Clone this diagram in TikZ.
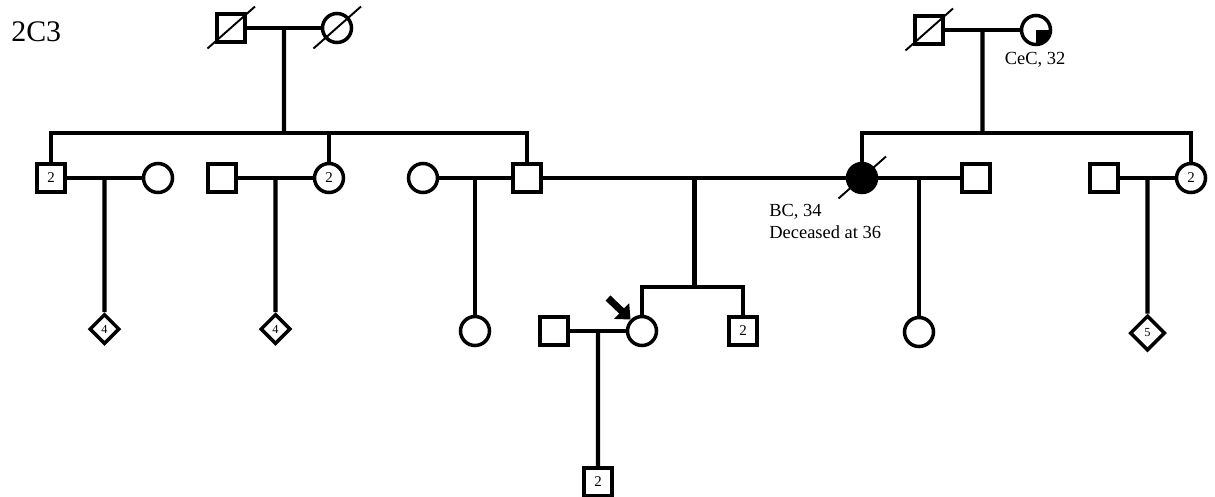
\documentclass[tikz,border=0pt]{standalone}
\usepackage{fontspec}
\setmainfont{Liberation Serif}
\usetikzlibrary{arrows.meta,calc,shapes.geometric}

\begin{document}
\begin{tikzpicture}[
    male/.style={draw,line width=2pt,minimum size=0.56cm,inner sep=0pt,font=\fontsize{8.5}{9}\selectfont},
    female/.style={male,circle,minimum size=0.58cm},
    unknown/.style={male,diamond,minimum size=0.6cm,font=\fontsize{7}{7}\selectfont},
    rel/.style={line width=2.4pt},
    dead/.style={line width=1.1pt},
    probarrow/.style={line width=4pt,-{Triangle[length=7pt,width=12pt]}},
    lbl/.style={font=\fontsize{10.5}{12.5}\selectfont,inner sep=0pt,align=left}
  ]
    \useasboundingbox (0,0) rectangle (24.3,-9.92);
    \node[font=\fontsize{17}{20}\selectfont,anchor=west,inner sep=0pt] (title) at (0.22,-0.64) {2C3};

    % paternal grandparents
    \node[male] (gf1) at (4.62,-0.56) {};
    \node[female] (gm1) at (6.74,-0.56) {};
    \draw[dead] (gf1.center) +(-0.47,-0.41) -- +(0.48,0.43);
    \draw[dead] (gm1.center) +(-0.47,-0.41) -- +(0.48,0.43);
    \draw[rel] (gf1) -- (gm1);
    \coordinate (m1) at ($(gf1)!0.5!(gm1)$);
    \coordinate (s1) at (5.68,-2.66);
    \draw[rel] (m1) -- (s1);

    % maternal grandparents
    \node[male] (gf2) at (18.58,-0.60) {};
    \node[female] (gm2) at (20.72,-0.60) {};
    \fill (gm2.center) -- ++(0.29,0) arc[start angle=0,end angle=-90,radius=0.29cm] -- cycle;
    \draw[dead] (gf2.center) +(-0.47,-0.41) -- +(0.48,0.43);
    \node[lbl] (cec) at (20.70,-1.20) {CeC, 32};
    \draw[rel] (gf2) -- (gm2);
    \coordinate (m2) at ($(gf2)!0.5!(gm2)$);
    \coordinate (s2) at (19.65,-2.66);
    \draw[rel] (m2) -- (s2);

    % second generation, left
    \node[male] (uA) at (1.02,-3.56) {2};
    \node[female] (wA) at (3.16,-3.56) {};
    \node[male] (hB) at (4.44,-3.56) {};
    \node[female] (aB) at (6.58,-3.56) {2};
    \node[female] (wC) at (8.46,-3.56) {};
    \node[male] (fa) at (10.54,-3.56) {};
    \draw[rel] (uA) |- (s1);
    \draw[rel] (aB) |- (s1);
    \draw[rel] (fa) |- (s1);
    \draw[rel] (uA) -- (wA);
    \draw[rel] (hB) -- (aB);
    \draw[rel] (wC) -- (fa);

    % second generation, right
    \node[female,fill=black] (mo) at (17.24,-3.56) {};
    \draw[dead] (mo.center) +(-0.47,-0.41) -- +(0.48,0.43);
    \node[lbl,anchor=north west] (bc) at (15.38,-4.08) {BC, 34\\Deceased at 36};
    \node[male] (hG) at (19.52,-3.56) {};
    \node[male] (hI) at (22.08,-3.56) {};
    \node[female] (aJ) at (23.82,-3.56) {2};
    \draw[rel] (mo) |- (s2);
    \draw[rel] (aJ) |- (s2);
    \draw[rel] (fa) -- (mo);
    \draw[rel] (mo) -- (hG);
    \draw[rel] (hI) -- (aJ);

    % third generation
    \coordinate (mA) at ($(uA)!0.5!(wA)$);
    \coordinate (mB) at ($(hB)!0.5!(aB)$);
    \coordinate (mC) at ($(wC)!0.5!(fa)$);
    \coordinate (mP) at ($(fa)!0.5!(mo)$);
    \coordinate (mG) at ($(mo)!0.5!(hG)$);
    \coordinate (mI) at ($(hI)!0.5!(aJ)$);
    \node[unknown] (cA) at (2.09,-6.58) {4};
    \node[unknown] (cB) at (5.51,-6.58) {4};
    \node[female] (cC) at (9.50,-6.62) {};
    \node[female] (pro) at (12.84,-6.62) {};
    \node[male] (sib) at (14.86,-6.62) {2};
    \node[male] (hE) at (11.08,-6.62) {};
    \node[female] (cG) at (18.38,-6.64) {};
    \node[unknown,minimum size=0.7cm] (cI) at (22.95,-6.66) {5};
    \coordinate (sP) at (13.89,-5.74);
    \draw[rel] (mA) -- (cA);
    \draw[rel] (mB) -- (cB);
    \draw[rel] (mC) -- (cC);
    \draw[rel] (mG) -- (cG);
    \draw[rel] (mI) -- (cI);
    \draw[rel] (mP) -- (sP);
    \draw[rel] (pro) |- (sP);
    \draw[rel] (sib) |- (sP);
    \draw[rel] (hE) -- (pro);
    \coordinate (ptail) at (12.16,-5.96);
    \draw[probarrow] (ptail) -- (pro.north west);

    % fourth generation
    \coordinate (mE) at ($(hE)!0.5!(pro)$);
    \node[male] (cE) at (11.96,-9.64) {2};
    \draw[rel] (mE) -- (cE);
  \end{tikzpicture}
\end{document}
